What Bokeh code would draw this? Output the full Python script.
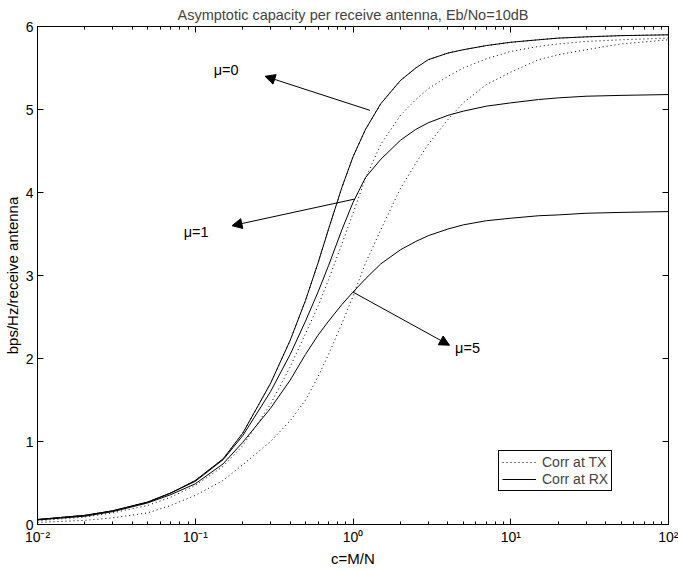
from bokeh.plotting import figure
from bokeh.models import (Range1d, LogAxis, LinearAxis, Arrow, NormalHead,
                          CustomJSTickFormatter, FixedTicker, LogTicker, Legend, LegendItem)
from bokeh.core.properties import value
from bokeh.embed import file_html
from bokeh.resources import INLINE

# ---------------- data ----------------
c_vals = [0.01, 0.02, 0.03, 0.05, 0.07, 0.1, 0.15, 0.2, 0.3, 0.4, 0.5, 0.6, 0.7, 0.85,
          1.0, 1.2, 1.5, 2.0, 2.5, 3.0, 4.0, 5.0, 7.0, 10.0, 15.0, 20.0, 30.0, 50.0, 100.0]

rx_mu0 = [0.06, 0.11, 0.165, 0.27, 0.38, 0.53, 0.79, 1.10, 1.70, 2.22, 2.70, 3.15, 3.56, 4.06,
          4.43, 4.76, 5.07, 5.35, 5.50, 5.60, 5.68, 5.72, 5.77, 5.81, 5.84, 5.86, 5.875, 5.89, 5.90]
rx_mu1 = [0.06, 0.11, 0.165, 0.27, 0.38, 0.52, 0.78, 1.07, 1.60, 2.05, 2.45, 2.80, 3.12, 3.55,
          3.88, 4.18, 4.40, 4.63, 4.76, 4.84, 4.93, 4.98, 5.04, 5.08, 5.12, 5.14, 5.16, 5.17, 5.18]
rx_mu5 = [0.055, 0.10, 0.155, 0.26, 0.36, 0.49, 0.73, 0.99, 1.40, 1.74, 2.05, 2.28, 2.45, 2.65,
          2.80, 2.96, 3.14, 3.31, 3.41, 3.48, 3.56, 3.61, 3.66, 3.69, 3.72, 3.73, 3.75, 3.76, 3.77]

tx_mu0 = rx_mu0
tx_mu1 = [0.045, 0.09, 0.14, 0.23, 0.33, 0.47, 0.70, 0.95, 1.45, 1.90, 2.30, 2.63, 2.95, 3.38,
          3.75, 4.17, 4.58, 4.93, 5.12, 5.25, 5.40, 5.50, 5.61, 5.70, 5.76, 5.79, 5.82, 5.84, 5.86]
tx_mu5 = [0.025, 0.05, 0.08, 0.14, 0.23, 0.35, 0.53, 0.72, 1.00, 1.25, 1.50, 1.78, 2.05, 2.42,
          2.75, 3.15, 3.55, 4.05, 4.35, 4.58, 4.88, 5.08, 5.30, 5.45, 5.60, 5.66, 5.72, 5.79, 5.84]

y_ticks = [0, 1, 2, 3, 4, 5, 6]

# annotations: label text, label anchor (c, y), arrow start (c, y), arrow tip (c, y)
ann_labels = ["\u03bc=0", "\u03bc=1", "\u03bc=5"]
ann_label_c = [0.131, 0.0845, 4.44]
ann_label_y = [5.47, 3.52, 2.13]
ann_start_c = [1.28, 1.02, 1.0]
ann_start_y = [4.99, 3.92, 2.80]
ann_tip_c = [0.277, 0.171, 4.09]
ann_tip_y = [5.40, 3.60, 2.16]

FONT = "Liberation Sans"

p = figure(width=678, height=572, x_axis_type="log",
           x_range=Range1d(0.01, 100), y_range=Range1d(0, 6),
           output_backend="svg", toolbar_location=None,
           min_border_left=35, min_border_right=10, min_border_top=10, min_border_bottom=48)

p.title.text = "Asymptotic capacity per receive antenna, Eb/No=10dB"
p.title.align = "center"
p.title.text_font = FONT
p.title.text_font_size = "14.5px"
p.title.text_font_style = "normal"
p.title.standoff = 8

p.xgrid.visible = False
p.ygrid.visible = False
p.outline_line_color = "black"
p.outline_line_alpha = 1.0
p.background_fill_color = "white"
p.border_fill_color = "white"

fmt = CustomJSTickFormatter(code="""
const e = Math.round(Math.log10(tick));
const sup = {'-':'\\u207b','0':'\\u2070','1':'\\u00b9','2':'\\u00b2','3':'\\u00b3'};
return '10' + String(e).split('').map(ch => sup[ch]).join('');
""")

xa = p.xaxis[0]
xa.formatter = fmt
xa.ticker = LogTicker(num_minor_ticks=10)
xa.axis_label = "c=M/N"
ya = p.yaxis[0]
ya.ticker = FixedTicker(ticks=y_ticks)
ya.axis_label = "bps/Hz/receive antenna"

for ax in (xa, ya):
    ax.major_tick_in = 6
    ax.major_tick_out = 0
    ax.minor_tick_in = 3
    ax.minor_tick_out = 0
    ax.axis_line_color = "black"
    ax.major_tick_line_color = "black"
    ax.minor_tick_line_color = "black"
    ax.major_label_text_font = FONT
    ax.major_label_text_font_size = "14px"
    ax.major_label_text_color = "black"
    ax.axis_label_text_font = FONT
    ax.axis_label_text_font_size = "15px"
    ax.axis_label_text_font_style = "normal"
    ax.axis_label_text_color = "black"
    ax.major_label_standoff = 4
    ax.axis_label_standoff = 2
ya.minor_tick_line_color = None

top = LogAxis(ticker=LogTicker(num_minor_ticks=10), major_tick_in=6, major_tick_out=0,
              minor_tick_in=3, minor_tick_out=0, major_label_text_font_size="1px",
              major_label_text_color=None, major_label_standoff=0)
right = LinearAxis(ticker=FixedTicker(ticks=y_ticks), major_tick_in=6, major_tick_out=0,
                   minor_tick_line_color=None, major_label_text_font_size="1px",
                   major_label_text_color=None, major_label_standoff=0)
p.add_layout(top, "above")
p.add_layout(right, "right")

dot = "1 3"
r_tx0 = p.line(c_vals, tx_mu0, line_color="black", line_width=1, line_dash=dot)
r_tx1 = p.line(c_vals, tx_mu1, line_color="black", line_width=1, line_dash=dot)
r_tx5 = p.line(c_vals, tx_mu5, line_color="black", line_width=1, line_dash=dot)
r_rx0 = p.line(c_vals, rx_mu0, line_color="black", line_width=1)
r_rx1 = p.line(c_vals, rx_mu1, line_color="black", line_width=1)
r_rx5 = p.line(c_vals, rx_mu5, line_color="black", line_width=1)

for i in range(3):
    p.add_layout(Arrow(end=NormalHead(size=10, fill_color="black", line_color="black"),
                       x_start=ann_start_c[i], y_start=ann_start_y[i],
                       x_end=ann_tip_c[i], y_end=ann_tip_y[i],
                       line_color="black", line_width=1))

p.text(x=ann_label_c, y=ann_label_y, text=ann_labels, text_font=value(FONT),
       text_font_size="14.5px", text_baseline="middle", text_align="left", text_color="black")

legend = Legend(items=[LegendItem(label="Corr at TX", renderers=[r_tx1]),
                       LegendItem(label="Corr at RX", renderers=[r_rx1])],
                location=(461, 33))
legend.label_text_font = FONT
legend.label_text_font_size = "14px"
legend.label_height = 14
legend.glyph_height = 14
legend.glyph_width = 34
legend.spacing = 1
legend.padding = 3
legend.margin = 0
legend.label_standoff = 6
legend.border_line_color = "black"
legend.border_line_alpha = 1
legend.background_fill_alpha = 1
p.add_layout(legend, "center")

open("out.html", "w").write(file_html(p, INLINE))
